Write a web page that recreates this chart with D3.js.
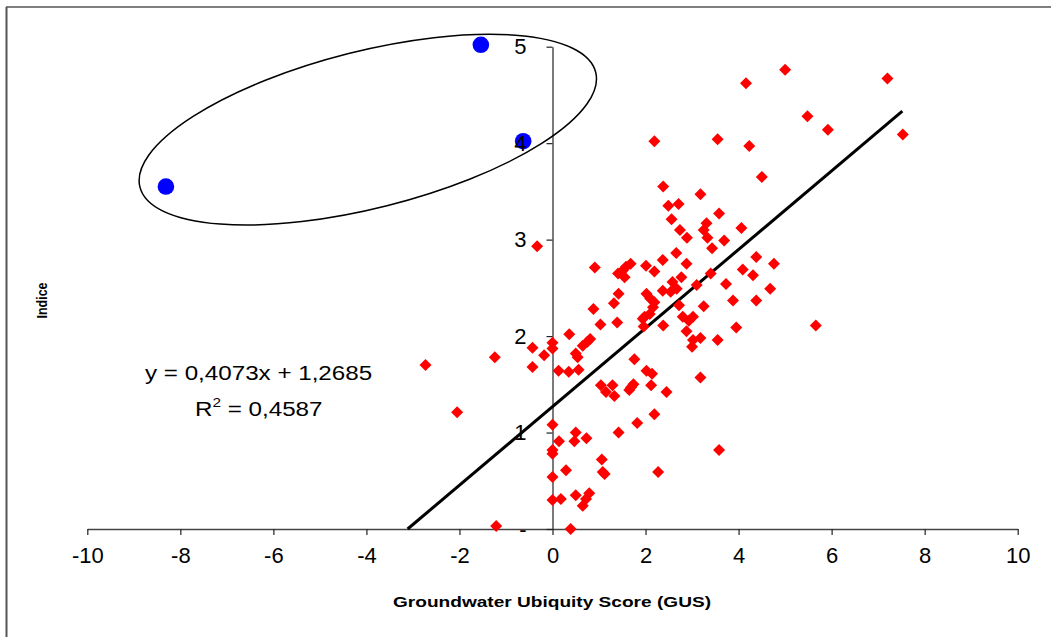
<!DOCTYPE html>
<html><head><meta charset="utf-8">
<script src="https://cdn.jsdelivr.net/npm/d3@7"></script>
<style>
html,body{margin:0;padding:0;background:#fff;}
svg{display:block;font-family:"Liberation Sans",Arial,sans-serif;}
</style></head>
<body>
<svg id="chart" width="1051" height="637"></svg>
<script>
// ---- data ----
const redX = [5.00,4.16,7.20,5.48,5.92,7.53,2.19,3.55,4.23,4.50,2.38,3.18,2.49,2.71,3.58,2.56,2.74,2.89,3.31,3.25,
  3.33,4.06,3.69,3.43,-0.33,4.38,4.76,0.91,1.68,1.58,1.51,1.41,1.55,2.01,2.19,2.37,2.66,2.88,4.09,4.31,
  3.40,3.10,3.73,4.68,2.77,2.58,2.67,2.54,2.37,1.42,1.32,2.02,2.10,2.19,2.16,3.88,4.38,2.72,3.25,0.88,
  1.98,1.94,2.09,2.80,3.02,2.93,2.38,1.03,1.39,1.96,2.88,3.95,5.66,0.36,3.18,3.55,3.02,3.00,-0.43,-0.18,
  0.00,0.00,0.65,0.75,0.81,0.50,0.54,1.76,-0.43,0.13,0.35,0.56,2.02,2.14,2.12,2.45,1.04,1.29,1.15,1.33,
  1.69,1.74,1.65,3.18,1.82,2.19,1.42,0.00,0.14,0.50,0.47,0.73,0.00,0.00,1.06,0.29,1.08,1.12,2.27,0.00,
  0.00,0.18,0.50,0.79,0.72,0.65,0.39,-1.21,-2.73,-2.05,-1.24,3.58];
const redY = [4.76,4.62,4.67,4.28,4.14,4.09,4.02,4.04,3.97,3.65,3.55,3.47,3.35,3.37,3.27,3.21,3.10,3.02,3.17,3.10,
  3.02,3.12,2.99,2.91,2.93,2.82,2.75,2.71,2.75,2.72,2.68,2.65,2.61,2.73,2.67,2.79,2.86,2.75,2.69,2.63,
  2.65,2.53,2.54,2.49,2.61,2.56,2.49,2.46,2.47,2.44,2.34,2.44,2.39,2.35,2.30,2.37,2.37,2.32,2.31,2.28,
  2.20,2.18,2.23,2.20,2.20,2.16,2.11,2.12,2.14,2.10,2.05,2.09,2.11,2.02,1.98,1.96,1.96,1.89,1.88,1.80,
  1.93,1.87,1.90,1.94,1.97,1.82,1.78,1.76,1.68,1.64,1.63,1.65,1.64,1.61,1.49,1.42,1.49,1.49,1.42,1.38,
  1.47,1.50,1.44,1.57,1.10,1.19,1.00,1.08,0.91,1.00,0.91,0.94,0.82,0.78,0.72,0.61,0.59,0.57,0.59,0.54,
  0.30,0.31,0.35,0.37,0.31,0.24,0.00,0.03,1.70,1.21,1.78,0.82];
const blueX = [-1.54,-0.63,-8.31];
const blueY = [5.02,4.02,3.55];
const xTicks = [-10,-8,-6,-4,-2,0,2,4,6,8,10];
const yTicks = [0,1,2,3,4,5];
const slope = 0.4073, intercept = 1.2685;
const lineXEnd = 7.52;
const eqText = "y = 0,4073x + 1,2685";
const r2Value = "0,4587";
const xTitle = "Groundwater Ubiquity Score (GUS)";
const yTitle = "Indice";
const ellipseCenter = [-3.97, 4.14]; // data units (annotation)

// ---- drawing ----
const svg = d3.select("#chart");
const x = d3.scaleLinear().domain([-10,10]).range([87.3,1017.7]);
const y = d3.scaleLinear().domain([0,5]).range([529,46.7]);
const FONT = "Liberation Sans, Arial, sans-serif";

// frame
svg.append("line").attr("x1",6).attr("x2",1051).attr("y1",7).attr("y2",7).attr("stroke","#000").attr("stroke-width",1.2);
svg.append("line").attr("x1",6.5).attr("x2",6.5).attr("y1",7).attr("y2",637).attr("stroke","#555").attr("stroke-width",2);

// x axis at y=0
const xAxis = svg.append("g").attr("transform",`translate(0,${y(0)})`)
  .call(d3.axisBottom(x).tickValues(xTicks).tickSize(6).tickSizeOuter(0).tickPadding(12).tickFormat(d=>String(d)));
xAxis.select(".domain").attr("stroke","#444").attr("stroke-width",1.3);
xAxis.selectAll(".tick line").attr("stroke","#222").attr("stroke-width",1.2);
xAxis.selectAll("text").attr("font-size",22).attr("fill","#000").attr("font-family",FONT);

// y axis line + ticks at x=0 (labels drawn later, on top of marks)
const yAxis = svg.append("g").attr("transform",`translate(${x(0)},0)`)
  .call(d3.axisLeft(y).tickValues(yTicks).tickSize(6).tickSizeOuter(0).tickFormat(""));
yAxis.select(".domain").attr("stroke","#222").attr("stroke-width",1.2);
yAxis.selectAll(".tick line").attr("stroke","#222").attr("stroke-width",1.2);

// regression line
const x0 = -intercept/slope;
svg.append("line")
  .attr("x1",x(x0)).attr("y1",y(slope*x0+intercept))
  .attr("x2",x(lineXEnd)).attr("y2",y(slope*lineXEnd+intercept))
  .attr("stroke","#000").attr("stroke-width",3);

// red diamonds
const red = redX.map((v,i)=>({x:v,y:redY[i]}));
svg.append("g").selectAll("path").data(red).join("path")
  .attr("d", d3.symbol(d3.symbolSquare, 72))
  .attr("transform", d=>`translate(${x(d.x)},${y(d.y)}) rotate(45)`)
  .attr("fill","#ff0000");

// blue circles
const blue = blueX.map((v,i)=>({x:v,y:blueY[i]}));
svg.append("g").selectAll("circle").data(blue).join("circle")
  .attr("cx",d=>x(d.x)).attr("cy",d=>y(d.y)).attr("r",8.3).attr("fill","#0000ff");

// y tick labels on top
const yLab = svg.append("g").attr("transform",`translate(${x(0)},0)`)
  .call(d3.axisLeft(y).tickValues(yTicks).tickSize(0).tickPadding(26).tickFormat(d=> d===0 ? "-" : String(d)));
yLab.select(".domain").remove();
yLab.selectAll(".tick line").remove();
yLab.selectAll("text").attr("font-size",22).attr("fill","#000").attr("font-family",FONT);

// ellipse annotation
svg.append("ellipse")
  .attr("transform",`translate(${x(ellipseCenter[0])},${y(ellipseCenter[1])}) rotate(-14.15)`)
  .attr("rx",235).attr("ry",78.5)
  .attr("fill","none").attr("stroke","#000").attr("stroke-width",1.5);

// equation
const eq = svg.append("g").attr("transform","translate(145,380) scale(1.18,1)");
eq.append("text").attr("font-size",20.5).attr("fill","#000").text(eqText);
const r2 = svg.append("g").attr("transform","translate(195,416) scale(1.18,1)");
const r2t = r2.append("text").attr("font-size",20.5).attr("fill","#000");
r2t.append("tspan").text("R");
r2t.append("tspan").attr("font-size",13).attr("dy",-9).text("2");
r2t.append("tspan").attr("dy",9).text(" = " + r2Value);

// axis titles
svg.append("text").attr("x",552).attr("y",607).attr("text-anchor","middle")
  .attr("font-size",15.5).attr("font-weight","bold").attr("textLength",318).attr("lengthAdjust","spacingAndGlyphs")
  .text(xTitle);
svg.append("text").attr("transform","translate(47,300.5) rotate(-90)").attr("text-anchor","middle")
  .attr("font-size",15).attr("font-weight","bold").attr("textLength",36).attr("lengthAdjust","spacingAndGlyphs")
  .text(yTitle);
</script>
</body></html>
